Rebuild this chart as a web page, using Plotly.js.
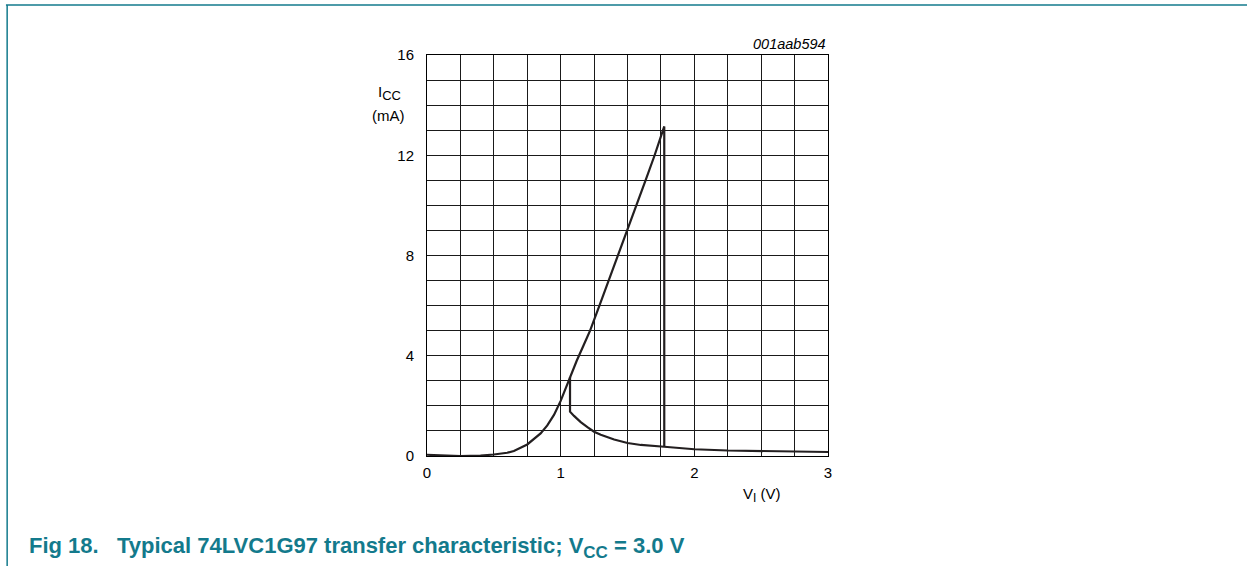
<!DOCTYPE html>
<html>
<head>
<meta charset="utf-8">
<script src="https://cdn.plot.ly/plotly-3.0.1.min.js"></script>
<style>html,body{margin:0;padding:0;background:#fff;}#chart{width:1247px;height:566px;}</style>
</head>
<body>
<div id="chart"></div>
<script>
// Rising branch (input going up): V_I (V) and I_CC (mA), ending with the drop at the switching point
const riseV = [0, 0.1, 0.25, 0.4, 0.5, 0.6, 0.65, 0.75, 0.85, 0.9, 0.95, 1.0, 1.07, 1.12, 1.17, 1.22, 1.29, 1.36, 1.43, 1.5, 1.565, 1.635, 1.703, 1.77, 1.775, 1.775];
const riseI = [0.05, 0.02, 0.0, 0.02, 0.06, 0.13, 0.2, 0.46, 0.9, 1.22, 1.64, 2.2, 3.15, 3.8, 4.4, 5.0, 6.0, 7.0, 8.0, 9.0, 10.0, 11.0, 12.0, 13.0, 13.15, 0.37];
// Falling / low branch incl. the hysteresis step at ~1.07 V
const fallV = [1.07, 1.07, 1.1, 1.15, 1.2, 1.25, 1.3, 1.4, 1.5, 1.6, 1.775, 2.0, 2.25, 2.5, 2.75, 3.0];
const fallI = [3.15, 1.77, 1.6, 1.35, 1.15, 0.97, 0.85, 0.66, 0.52, 0.44, 0.37, 0.27, 0.22, 0.19, 0.17, 0.16];

const xTickVals = [0, 0.25, 0.5, 0.75, 1, 1.25, 1.5, 1.75, 2, 2.25, 2.5, 2.75, 3];
const xTickText = ['0', '', '', '', '1', '', '', '', '2', '', '', '', '3'];
const yTickVals = [0,1,2,3,4,5,6,7,8,9,10,11,12,13,14,15,16];
const yTickText = ['0','','','','4','','','','8','','','','12','','','','16'];

const lineStyle = {color: '#231f20', width: 2.2};
const data = [
  {x: riseV, y: riseI, mode: 'lines', line: lineStyle, hoverinfo: 'skip'},
  {x: fallV, y: fallI, mode: 'lines', line: lineStyle, hoverinfo: 'skip'}
];

const teal = '#137a8c';
const nb = '\u00a0';
const layout = {
  width: 1247, height: 566,
  margin: {l: 427, r: 419, t: 55, b: 110, pad: 0},
  paper_bgcolor: '#fff', plot_bgcolor: '#fff',
  showlegend: false,
  font: {family: 'Liberation Sans, Arial, sans-serif', size: 15, color: '#000'},
  xaxis: {
    range: [0, 3], tickvals: xTickVals, ticktext: xTickText,
    showgrid: true, gridcolor: '#1a1a1a', gridwidth: 1,
    zeroline: false, showline: true, linecolor: '#000', linewidth: 1, mirror: true,
    ticks: '', tickfont: {size: 15}, ticklabelstandoff: 3, fixedrange: true
  },
  yaxis: {
    range: [0, 16], tickvals: yTickVals, ticktext: yTickText,
    showgrid: true, gridcolor: '#1a1a1a', gridwidth: 1,
    zeroline: false, showline: true, linecolor: '#000', linewidth: 1, mirror: true,
    ticks: '', tickfont: {size: 15}, ticklabelstandoff: 9, fixedrange: true
  },
  annotations: [
    {xref: 'paper', yref: 'paper', x: -0.094, y: 0.905, text: 'I<sub><span style="font-size:13px">CC</span></sub>', showarrow: false, xanchor: 'center', yanchor: 'middle', font: {size: 15}},
    {xref: 'paper', yref: 'paper', x: -0.097, y: 0.848, text: '(mA)', showarrow: false, xanchor: 'center', yanchor: 'middle', font: {size: 15}},
    {xref: 'paper', yref: 'paper', x: 0.835, y: -0.097, text: 'V<sub><span style="font-size:12px">I</span></sub> (V)', showarrow: false, xanchor: 'center', yanchor: 'middle', font: {size: 15}},
    {xref: 'paper', yref: 'paper', x: 1.0, y: 1.028, text: '<i>001aab594</i>', showarrow: false, xanchor: 'right', yanchor: 'middle', font: {size: 14.5}},
    {xref: 'paper', yref: 'paper', x: -0.998, y: -0.227, xanchor: 'left', yanchor: 'middle', showarrow: false,
     text: '<b>Fig 18.' + nb + nb + nb + 'Typical 74LVC1G97 transfer characteristic; V<sub><span style="font-size:17px">CC</span></sub> = 3.0 V</b>',
     font: {size: 22, color: teal}}
  ],
  shapes: [
    {type: 'line', xref: 'paper', yref: 'paper', x0: -1.05, x1: 2.05, y0: 1.1247, y1: 1.1247, line: {color: teal, width: 1.5}},
    {type: 'line', xref: 'paper', yref: 'paper', x0: -1.047, x1: -1.047, y0: 1.1247, y1: -0.3, line: {color: teal, width: 1.5}}
  ]
};

Plotly.newPlot('chart', data, layout, {staticPlot: true, displayModeBar: false});
</script>
</body>
</html>
